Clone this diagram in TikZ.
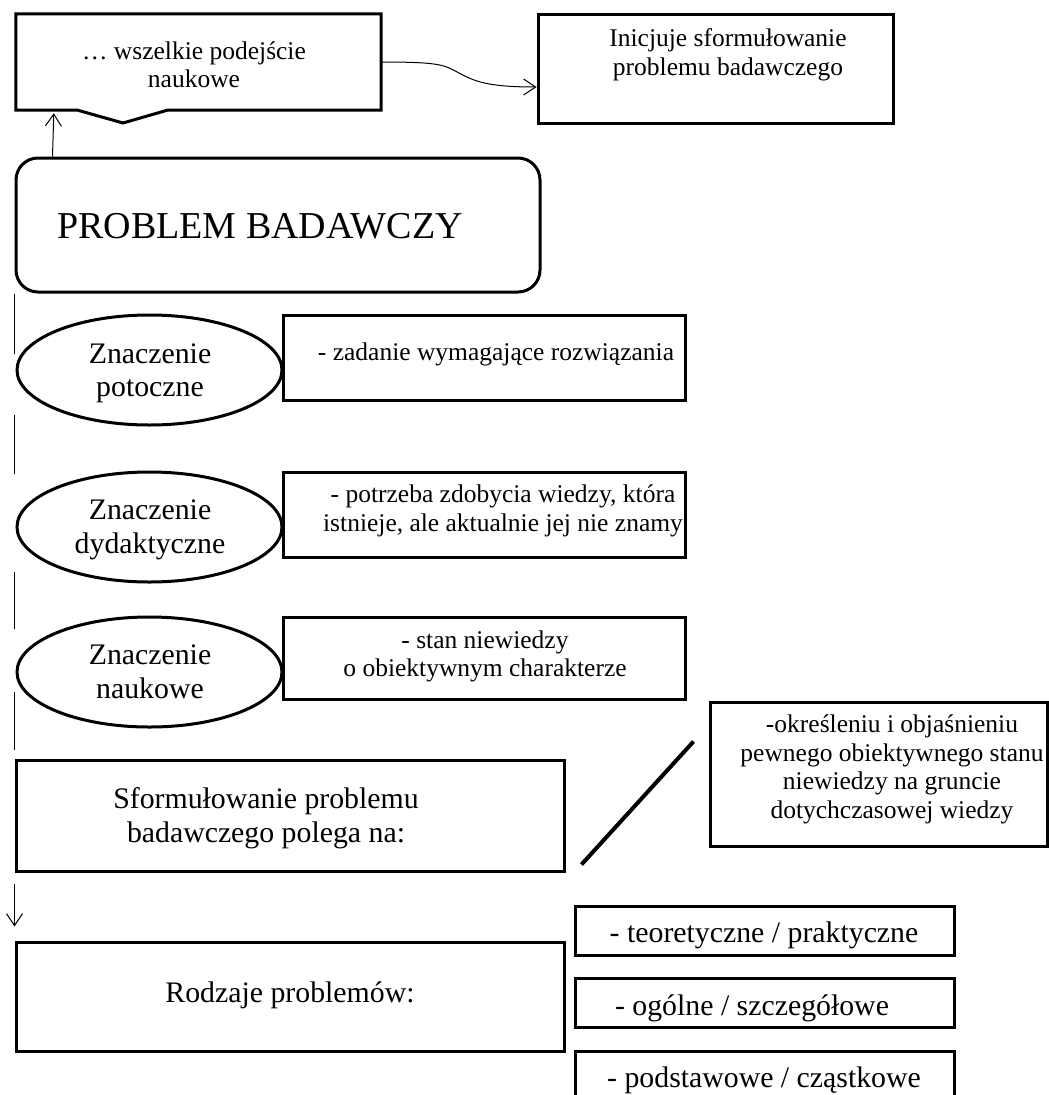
\documentclass[tikz,border=0pt]{standalone}
\usepackage{fontspec}
\setmainfont{Liberation Serif}
\usetikzlibrary{arrows.meta,shapes.geometric}

\tikzset{
  frame/.style={draw, rectangle, line width=3pt, fill=white, inner sep=0pt},
  oval/.style={draw, ellipse, line width=3pt, fill=white, inner sep=0pt,
               minimum width=265pt, minimum height=110pt},
  small/.style={font=\fontsize{25.5}{28.5}\selectfont, align=center, inner sep=0pt},
  medium/.style={font=\fontsize{29.8}{33.5}\selectfont, align=center, inner sep=0pt},
  link/.style={line width=1pt},
  tip/.style={-{Straight Barb[length=12pt,width=16pt]}},
}

\begin{document}
\begin{tikzpicture}[x=1pt,y=-1pt]
\useasboundingbox (0,0) rectangle (1049,1095);
\clip (0,0) rectangle (1049,1095);

% main title box
\node[frame, rounded corners=22pt, minimum width=524pt, minimum height=134pt] (prob) at (278,225) {};
\node[anchor=base west, inner sep=0pt, font=\fontsize{38}{44}\selectfont] (tprob) at (57,238) {PROBLEM BADAWCZY};

% callout with notch
\node[inner sep=0pt, minimum width=365pt, minimum height=96pt] (callout) at (198.5,62) {};
\draw[line width=3pt, fill=white] (callout.north west) -- (callout.north east) -- (callout.south east)
  -- (168,110) -- (123,123) -- (77,110) -- (callout.south west) -- cycle;
\node[small] (tcallout) at (194,67.8) {\strut\dots\ wszelkie podejście\\\strut naukowe};

% box on the right of the callout
\node[frame, minimum width=355pt, minimum height=109pt] (inic) at (715.5,68.5) {};
\node[small] (tinic) at (728,55.3) {\strut Inicjuje sformułowanie\\\strut problemu badawczego};

% connectors at the top
\draw[link, tip] ([xshift=38pt]prob.north west) -- ([xshift=38pt,yshift=-3pt]callout.south west);
\draw[link, tip] (callout.east) .. controls +(60,0) and +(-15,-8) .. (459,73)
  .. controls +(15,8) and +(-50,0) .. ([yshift=-18.5pt]inic.west);

% formulation box (needed for the side line)
\node[frame, minimum width=548pt, minimum height=111pt] (sform) at (290,815.5) {};
\node[medium] (tsform) at (266,818.8) {\strut Sformułowanie problemu\\\strut badawczego polega na:};

% broken side line from the title box down to the formulation box
\draw[link, dash pattern=on 60pt off 61pt on 59pt off 98pt on 57pt off 63pt on 58pt off 12pt]
  (prob.south west) -- (sform.north west);

% meanings
\node[oval] (e1) at (149.5,370) {};
\node[medium] (te1) at (150,373.3) {\strut Znaczenie\\\strut potoczne};
\node[oval] (e2) at (149.5,527) {};
\node[medium] (te2) at (150,529.8) {\strut Znaczenie\\\strut dydaktyczne};
\node[oval] (e3) at (149.5,672) {};
\node[medium] (te3) at (150,674.8) {\strut Znaczenie\\\strut naukowe};

\node[frame, minimum width=402pt, minimum height=85pt] (m1) at (484,357.5) {};
\node[small] (tm1) at (496,354.3) {\strut - zadanie wymagające rozwiązania};
\node[frame, minimum width=402pt, minimum height=85pt] (m2) at (484,514.5) {};
\node[small] (tm2) at (503,511.3) {\strut - potrzeba zdobycia wiedzy, która\\\strut istnieje, ale aktualnie jej nie znamy};
\node[frame, minimum width=402pt, minimum height=82pt] (m3) at (484,658) {};
\node[small] (tm3) at (485,656.8) {\strut - stan niewiedzy\\\strut o obiektywnym charakterze};

% explanation of the formulation
\node[frame, minimum width=337pt, minimum height=144pt] (okr) at (878.5,774) {};
\node[small] (tokr) at (892,769.8) {\strut -określeniu i objaśnieniu\\\strut pewnego obiektywnego stanu\\\strut niewiedzy na gruncie\\\strut dotychczasowej wiedzy};
\draw[line width=4pt] ([xshift=16pt,yshift=8pt]sform.south east) -- ([xshift=-15pt,yshift=-41pt]okr.north west);

% kinds of problems
\node[frame, minimum width=548pt, minimum height=109pt] (rodz) at (290,996.5) {};
\node[medium] (trodz) at (290,995.3) {\strut Rodzaje problemów:};
\draw[link, tip] ([yshift=-11pt]sform.south west) -- ([yshift=14pt]rodz.north west);

\node[frame, minimum width=379pt, minimum height=49pt] (k1) at (764.5,930.5) {};
\node[medium] (tk1) at (764,935.3) {\strut - teoretyczne / praktyczne};
\node[frame, minimum width=379pt, minimum height=49pt] (k2) at (764.5,1002.5) {};
\node[medium] (tk2) at (752,1008.3) {\strut - ogólne / szczegółowe};
\node[frame, minimum width=379pt, minimum height=59pt] (k3) at (764.5,1080.5) {};
\node[medium] (tk3) at (764,1080.3) {\strut - podstawowe / cząstkowe};
\end{tikzpicture}
\end{document}
